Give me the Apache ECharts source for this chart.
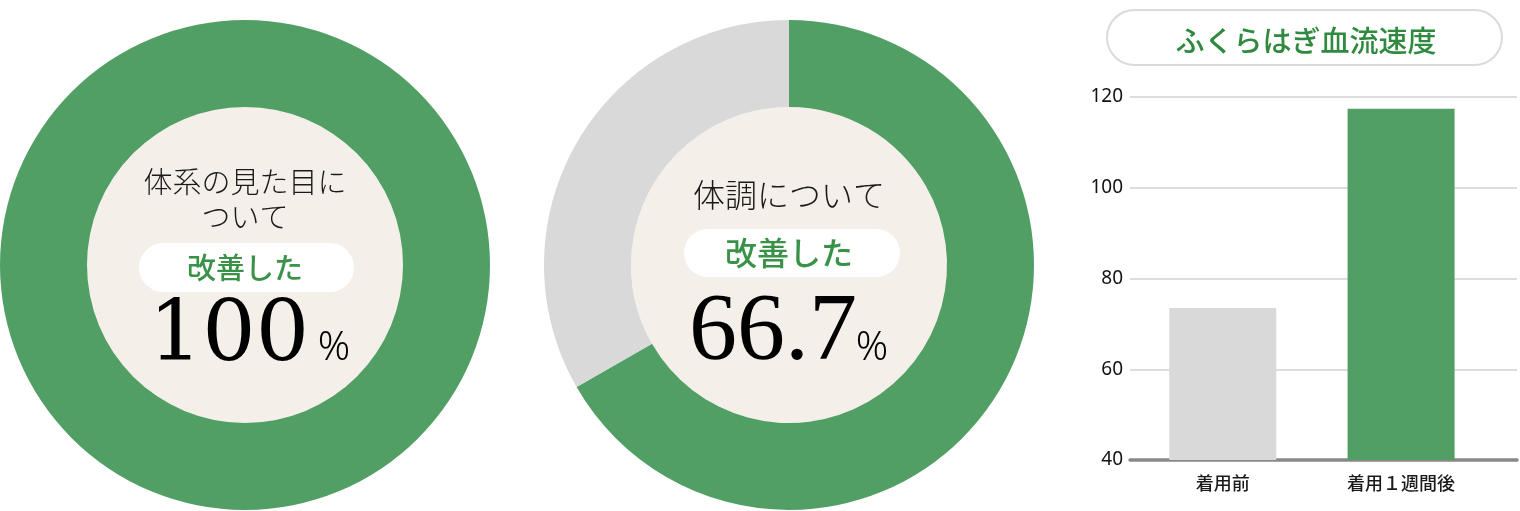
<!DOCTYPE html>
<html><head><meta charset="utf-8">
<script src="https://cdn.jsdelivr.net/npm/echarts@6/dist/echarts.min.js"></script>
<style>html,body{margin:0;padding:0;background:#fff}#c{width:1520px;height:511px}</style>
</head><body><div id="c"></div>
<script>
// ---- data ----
const donut1Label = ['体系の見た目に', 'ついて'];
const donut1Values = [100, 0];          // improved, not improved (%)
const donut2Label = ['体調について'];
const donut2Values = [66.7, 33.3];
const pillText = '改善した';
const barTitle = 'ふくらはぎ血流速度';
const barCategories = ['着用前', '着用１週間後'];
const barValues = [73.5, 117.4];
const yTicks = [40, 60, 80, 100, 120];

// ---- styles ----
const GREEN = '#529f65', GREY = '#d9d9d9', CREAM = '#f4f0e9', TEXTGREEN = '#3a9249', DARK = '#1a1a1a';
const JP = '"Noto Sans CJK JP", "Noto Sans", sans-serif';
const SERIF = '"Liberation Serif", "DejaVu Serif", serif';

function donut(center, values) {
  return [
    { type: 'pie', silent: true, center, radius: [0, 158], label: { show: false }, labelLine: { show: false },
      itemStyle: { color: CREAM }, data: [{ value: 1 }] },
    { type: 'pie', silent: true, center, radius: [158, 245], startAngle: 90, clockwise: true,
      label: { show: false }, labelLine: { show: false }, avoidLabelOverlap: false,
      data: [{ value: values[0], itemStyle: { color: GREEN } }, { value: values[1], itemStyle: { color: GREY } }] }
  ];
}
function txt(text, x, y, size, color, family, weight, align) {
  return { type: 'text', silent: true, z: 100, style: { text, x, y, fill: color, fontSize: size, fontFamily: family,
    fontWeight: weight || 'normal', textAlign: align || 'center', align: align || 'center',
    textVerticalAlign: 'middle', verticalAlign: 'middle' } };
}
function pill(x, y, w, h) {
  return { type: 'rect', silent: true, z: 90, shape: { x, y, width: w, height: h, r: h / 2 }, style: { fill: '#fff' } };
}
const fmt = v => (Math.round(v * 10) / 10).toString();

const option = {
  animation: false,
  grid: { left: 1130, right: 3, top: 97, bottom: 51 },
  xAxis: {
    type: 'value', min: -0.52, max: 1.65,
    splitLine: { show: false },
    axisTick: { show: false },
    axisLine: { show: true, onZero: false, lineStyle: { color: '#888', width: 3.5 } },
    axisLabel: { customValues: [0, 1], formatter: v => barCategories[Math.round(v)] || '', margin: 14,
      fontSize: 18, fontWeight: 500, color: DARK, fontFamily: JP }
  },
  yAxis: {
    type: 'value', min: yTicks[0], max: yTicks[yTicks.length - 1], interval: 20,
    axisLine: { show: false }, axisTick: { show: false },
    splitLine: { lineStyle: { color: '#dddddd', width: 2 } },
    axisLabel: { fontSize: 19, color: '#111', fontFamily: '"Noto Sans", sans-serif', margin: 7 }
  },
  series: [
    ...donut([245, 265], donut1Values),
    ...donut([789, 265], donut2Values),
    { type: 'bar', silent: true, barWidth: 107, z: 1,
      data: barValues.map((v, i) => ({ value: [i, v], itemStyle: { color: i === 0 ? GREY : GREEN } })) }
  ],
  graphic: [
    // donut 1 texts
    txt(donut1Label[0], 245, 182, 29, DARK, JP, 300),
    txt(donut1Label[1], 245, 217, 29, DARK, JP, 300),
    pill(139, 243, 215, 49),
    txt(pillText, 245, 268, 29, TEXTGREEN, JP, 500),
    txt(fmt(donut1Values[0]), 229, 338, 84, '#000', '"DejaVu Serif", serif', 'normal'),
    txt('%', 334, 349, 40, '#000', '"Noto Sans", sans-serif', 300),
    // donut 2 texts
    txt(donut2Label[0], 789, 195, 32, DARK, JP, 300),
    pill(684, 229, 216, 48),
    txt(pillText, 789, 253, 32, TEXTGREEN, JP, 500),
    txt(fmt(donut2Values[0]), 773, 334, 96, '#000', SERIF, 'normal'),
    txt('%', 872, 349, 40, '#000', '"Noto Sans", sans-serif', 300),
    // bar title
    { type: 'rect', silent: true, shape: { x: 1107, y: 10, width: 395, height: 55, r: 27.5 },
      style: { fill: '#fff', stroke: '#dadada', lineWidth: 2 } },
    txt(barTitle, 1306, 41, 29, '#2f8a40', JP, 500)
  ]
};
echarts.init(document.getElementById('c'), null, { renderer: 'canvas' }).setOption(option);
</script></body></html>
